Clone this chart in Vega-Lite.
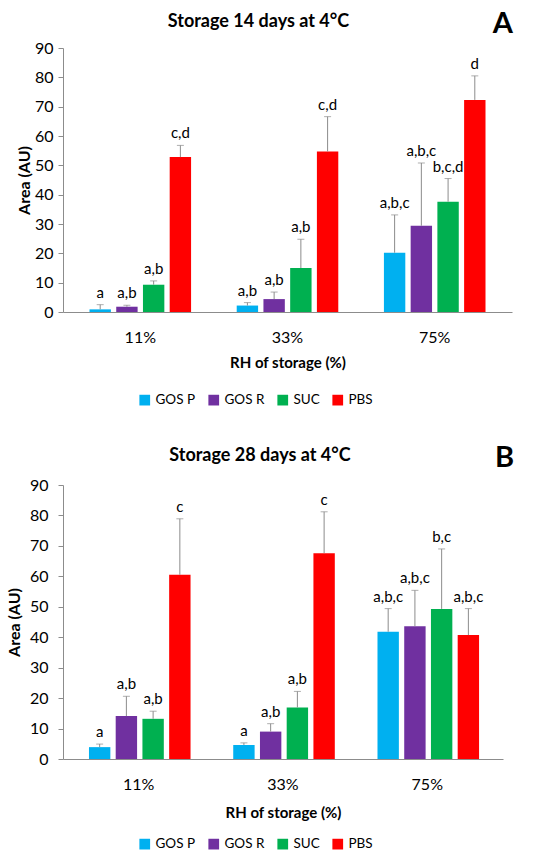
{
  "$schema": "https://vega.github.io/schema/vega-lite/v6.json",
  "background": "white",
  "padding": {"left": 6, "top": 10, "right": 12, "bottom": 4},
  "datasets": {
    "storage": [
      {"panel": "A", "rh": "11%", "group": "GOS P", "mean": 0.9, "upper": 2.5, "letters": "a"},
      {"panel": "A", "rh": "11%", "group": "GOS R", "mean": 1.8, "upper": 2.3, "letters": "a,b"},
      {"panel": "A", "rh": "11%", "group": "SUC", "mean": 9.3, "upper": 10.6, "letters": "a,b"},
      {"panel": "A", "rh": "11%", "group": "PBS", "mean": 52.8, "upper": 56.8, "letters": "c,d"},
      {"panel": "A", "rh": "33%", "group": "GOS P", "mean": 2.2, "upper": 3.2, "letters": "a,b"},
      {"panel": "A", "rh": "33%", "group": "GOS R", "mean": 4.4, "upper": 6.8, "letters": "a,b"},
      {"panel": "A", "rh": "33%", "group": "SUC", "mean": 15.0, "upper": 24.8, "letters": "a,b"},
      {"panel": "A", "rh": "33%", "group": "PBS", "mean": 54.7, "upper": 66.6, "letters": "c,d"},
      {"panel": "A", "rh": "75%", "group": "GOS P", "mean": 20.2, "upper": 33.1, "letters": "a,b,c"},
      {"panel": "A", "rh": "75%", "group": "GOS R", "mean": 29.4, "upper": 50.8, "letters": "a,b,c"},
      {"panel": "A", "rh": "75%", "group": "SUC", "mean": 37.6, "upper": 45.5, "letters": "b,c,d"},
      {"panel": "A", "rh": "75%", "group": "PBS", "mean": 72.3, "upper": 80.5, "letters": "d"},
      {"panel": "B", "rh": "11%", "group": "GOS P", "mean": 3.9, "upper": 4.9, "letters": "a"},
      {"panel": "B", "rh": "11%", "group": "GOS R", "mean": 14.1, "upper": 20.6, "letters": "a,b"},
      {"panel": "B", "rh": "11%", "group": "SUC", "mean": 13.2, "upper": 15.7, "letters": "a,b"},
      {"panel": "B", "rh": "11%", "group": "PBS", "mean": 60.5, "upper": 78.9, "letters": "c"},
      {"panel": "B", "rh": "33%", "group": "GOS P", "mean": 4.6, "upper": 5.3, "letters": "a"},
      {"panel": "B", "rh": "33%", "group": "GOS R", "mean": 9.0, "upper": 11.6, "letters": "a,b"},
      {"panel": "B", "rh": "33%", "group": "SUC", "mean": 16.9, "upper": 22.2, "letters": "a,b"},
      {"panel": "B", "rh": "33%", "group": "PBS", "mean": 67.6, "upper": 81.2, "letters": "c"},
      {"panel": "B", "rh": "75%", "group": "GOS P", "mean": 41.8, "upper": 49.4, "letters": "a,b,c"},
      {"panel": "B", "rh": "75%", "group": "GOS R", "mean": 43.6, "upper": 55.4, "letters": "a,b,c"},
      {"panel": "B", "rh": "75%", "group": "SUC", "mean": 49.3, "upper": 69.0, "letters": "b,c"},
      {"panel": "B", "rh": "75%", "group": "PBS", "mean": 40.7, "upper": 49.4, "letters": "a,b,c"}
    ]
  },
  "config": {
    "font": "Lato",
    "view": {"stroke": null},
    "axis": {
      "labelFontSize": 16,
      "labelColor": "#000000",
      "titleFontWeight": "bold",
      "titleColor": "#000000",
      "domainColor": "#8c8c8c",
      "tickColor": "#8c8c8c",
      "grid": false
    },
    "axisX": {"titleFontSize": 15},
    "axisY": {"titleFontSize": 16, "labelOverlap": false, "tickSize": 5},
    "legend": {
      "direction": "horizontal",
      "title": null,
      "labelFontSize": 13.5,
      "labelColor": "#000000",
      "labelOffset": 4,
      "symbolType": "square",
      "symbolSize": 115,
      "symbolStrokeWidth": 0,
      "columnPadding": 11
    },
    "title": {"fontSize": 18, "fontWeight": "bold", "color": "#000000"}
  },
  "align": "none",
  "spacing": 37,
  "resolve": {"scale": {"color": "independent"}, "legend": {"color": "independent"}},
  "vconcat": [
    {
      "title": {"text": "A", "anchor": "end", "fontSize": 29, "dy": 30, "dx": 1},
      "vconcat": [
        {
          "data": {"name": "storage"},
          "transform": [{"filter": "datum.panel === 'A'"}],
          "title": {"text": "Storage 14 days at 4°C", "offset": 9, "dx": -29},
          "width": 449,
          "height": 264,
          "encoding": {
            "x": {
              "field": "rh", "type": "nominal", "title": "RH of storage (%)",
              "scale": {"paddingInner": 0.31, "paddingOuter": 0.18},
              "axis": {"labelAngle": 0, "ticks": false, "labelPadding": 17, "titlePadding": 10}
            },
            "xOffset": {
              "field": "group", "type": "nominal",
              "sort": ["GOS P", "GOS R", "SUC", "PBS"],
              "scale": {"paddingInner": 0.2}
            }
          },
          "layer": [
            {
              "mark": "bar",
              "encoding": {
                "y": {
                  "field": "mean", "type": "quantitative", "title": "Area (AU)",
                  "scale": {"domain": [0, 90], "nice": false},
                  "axis": {"values": [0, 10, 20, 30, 40, 50, 60, 70, 80, 90], "labelOverlap": false, "labelPadding": 5, "titlePadding": 2}
                },
                "color": {
                  "field": "group", "type": "nominal",
                  "sort": ["GOS P", "GOS R", "SUC", "PBS"],
                  "scale": {"domain": ["GOS P", "GOS R", "SUC", "PBS"], "range": ["#00B0F0", "#7030A0", "#00B050", "#FF0000"]},
                  "legend": {"orient": "none", "legendX": 75, "legendY": 345}
                }
              }
            },
            {
              "mark": {"type": "rule", "color": "#8c8c8c", "strokeWidth": 1},
              "encoding": {
                "y": {
                  "field": "mean", "type": "quantitative", "title": "Area (AU)",
                  "scale": {"domain": [0, 90], "nice": false},
                  "axis": {"values": [0, 10, 20, 30, 40, 50, 60, 70, 80, 90], "labelOverlap": false, "labelPadding": 5, "titlePadding": 2}
                },
                "y2": {"field": "upper"}
              }
            },
            {
              "mark": {"type": "tick", "color": "#8c8c8c", "thickness": 1, "size": 7},
              "encoding": {
                "y": {
                  "field": "upper", "type": "quantitative", "title": "Area (AU)",
                  "scale": {"domain": [0, 90], "nice": false},
                  "axis": {"values": [0, 10, 20, 30, 40, 50, 60, 70, 80, 90], "labelOverlap": false, "labelPadding": 5, "titlePadding": 2}
                }
              }
            },
            {
              "mark": {"type": "text", "baseline": "bottom", "dy": -4, "fontSize": 15, "color": "#000000"},
              "encoding": {
                "y": {
                  "field": "upper", "type": "quantitative", "title": "Area (AU)",
                  "scale": {"domain": [0, 90], "nice": false},
                  "axis": {"values": [0, 10, 20, 30, 40, 50, 60, 70, 80, 90], "labelOverlap": false, "labelPadding": 5, "titlePadding": 2}
                },
                "text": {"field": "letters"}
              }
            }
          ]
        }
      ]
    },
    {
      "title": {"text": "B", "anchor": "end", "fontSize": 29, "dy": 30, "dx": 11},
      "vconcat": [
        {
          "data": {"name": "storage"},
          "transform": [{"filter": "datum.panel === 'B'"}],
          "title": {"text": "Storage 28 days at 4°C", "offset": 12, "dx": -23},
          "width": 440,
          "height": 274,
          "encoding": {
            "x": {
              "field": "rh", "type": "nominal", "title": "RH of storage (%)",
              "scale": {"paddingInner": 0.31, "paddingOuter": 0.18},
              "axis": {"labelAngle": 0, "ticks": false, "labelPadding": 17, "titlePadding": 13}
            },
            "xOffset": {
              "field": "group", "type": "nominal",
              "sort": ["GOS P", "GOS R", "SUC", "PBS"],
              "scale": {"paddingInner": 0.2}
            }
          },
          "layer": [
            {
              "mark": "bar",
              "encoding": {
                "y": {
                  "field": "mean", "type": "quantitative", "title": "Area (AU)",
                  "scale": {"domain": [0, 90], "nice": false},
                  "axis": {"values": [0, 10, 20, 30, 40, 50, 60, 70, 80, 90], "labelOverlap": false, "labelPadding": 10, "titlePadding": 7}
                },
                "color": {
                  "field": "group", "type": "nominal",
                  "sort": ["GOS P", "GOS R", "SUC", "PBS"],
                  "scale": {"domain": ["GOS P", "GOS R", "SUC", "PBS"], "range": ["#00B0F0", "#7030A0", "#00B050", "#FF0000"]},
                  "legend": {"orient": "none", "legendX": 75, "legendY": 352}
                }
              }
            },
            {
              "mark": {"type": "rule", "color": "#8c8c8c", "strokeWidth": 1},
              "encoding": {
                "y": {
                  "field": "mean", "type": "quantitative", "title": "Area (AU)",
                  "scale": {"domain": [0, 90], "nice": false},
                  "axis": {"values": [0, 10, 20, 30, 40, 50, 60, 70, 80, 90], "labelOverlap": false, "labelPadding": 10, "titlePadding": 7}
                },
                "y2": {"field": "upper"}
              }
            },
            {
              "mark": {"type": "tick", "color": "#8c8c8c", "thickness": 1, "size": 7},
              "encoding": {
                "y": {
                  "field": "upper", "type": "quantitative", "title": "Area (AU)",
                  "scale": {"domain": [0, 90], "nice": false},
                  "axis": {"values": [0, 10, 20, 30, 40, 50, 60, 70, 80, 90], "labelOverlap": false, "labelPadding": 10, "titlePadding": 7}
                }
              }
            },
            {
              "mark": {"type": "text", "baseline": "bottom", "dy": -4, "fontSize": 15, "color": "#000000"},
              "encoding": {
                "y": {
                  "field": "upper", "type": "quantitative", "title": "Area (AU)",
                  "scale": {"domain": [0, 90], "nice": false},
                  "axis": {"values": [0, 10, 20, 30, 40, 50, 60, 70, 80, 90], "labelOverlap": false, "labelPadding": 10, "titlePadding": 7}
                },
                "text": {"field": "letters"}
              }
            }
          ]
        }
      ]
    }
  ]
}
